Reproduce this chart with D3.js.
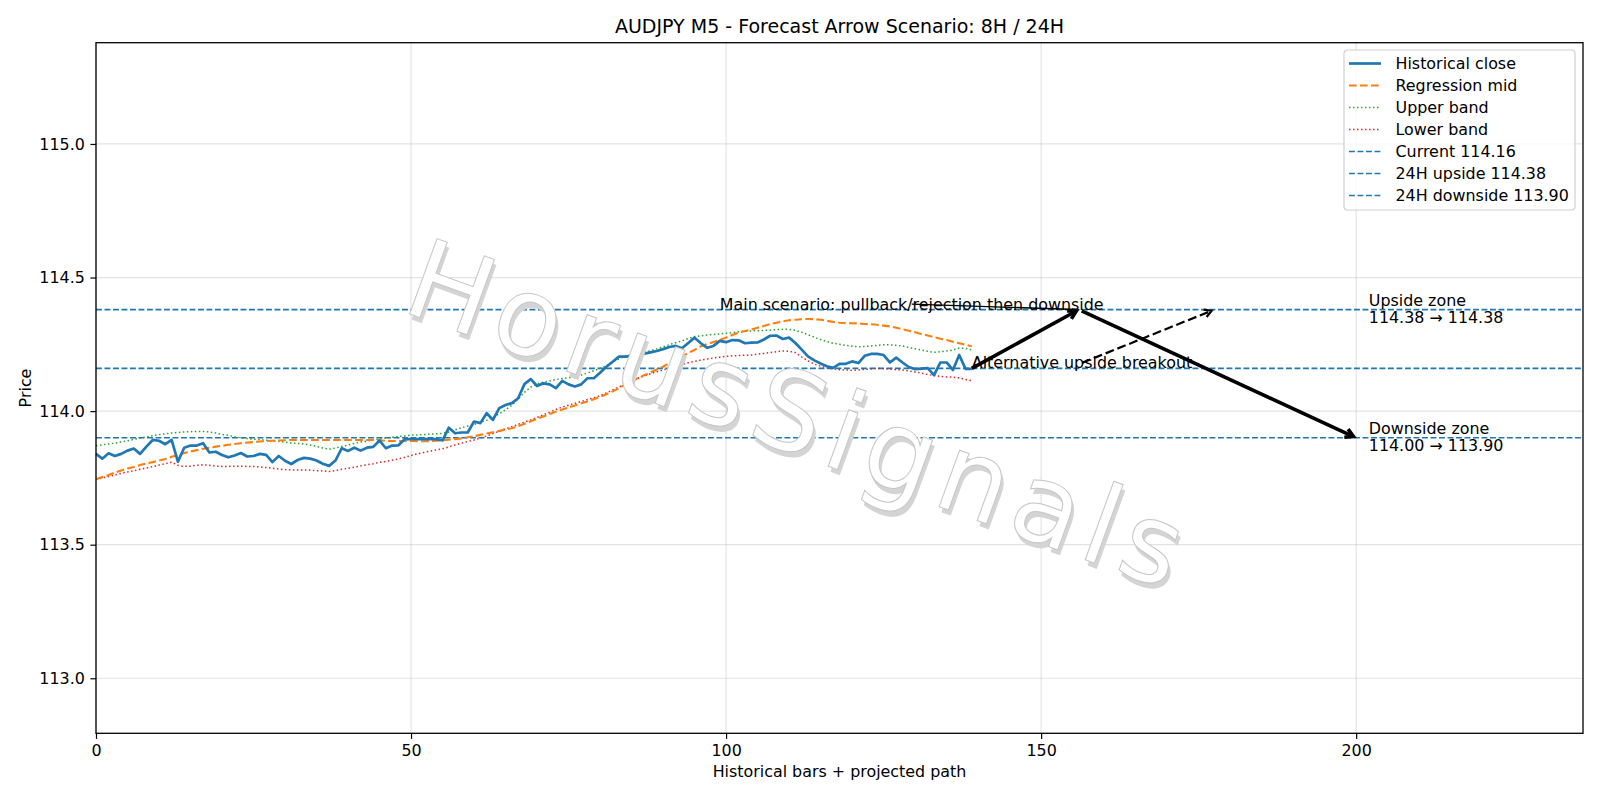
<!DOCTYPE html>
<html>
<head>
<meta charset="utf-8">
<script src="https://cdn.jsdelivr.net/npm/d3@7"></script>
<style>
  body { margin: 0; background: #fff; }
  svg text { font-family: "DejaVu Sans", sans-serif; }
</style>
</head>
<body>
<svg id="chart" width="1600" height="800"></svg>
<script>
// historical close, one value per bar (x = index)
var closeVals = [
  113.840,113.822,113.842,113.832,113.840,113.852,113.860,113.840,113.867,113.892,
  113.889,113.876,113.892,113.811,113.863,113.871,113.871,113.880,113.845,113.848,
  113.836,113.827,113.834,113.843,113.830,113.832,113.840,113.836,113.809,113.832,
  113.814,113.802,113.817,113.825,113.822,113.815,113.803,113.795,113.815,113.861,
  113.851,113.863,113.852,113.863,113.866,113.890,113.861,113.871,113.872,113.895,
  113.895,113.895,113.895,113.895,113.895,113.890,113.938,113.917,113.920,113.920,
  113.961,113.955,113.992,113.967,114.011,114.023,114.030,114.048,114.101,114.120,
  114.094,114.104,114.100,114.086,114.113,114.100,114.092,114.100,114.123,114.123,
  114.144,114.166,114.185,114.204,114.204,114.206,114.201,114.215,114.220,114.225,
  114.232,114.240,114.244,114.235,114.255,114.275,114.254,114.237,114.244,114.263,
  114.258,114.266,114.265,114.254,114.256,114.257,114.268,114.282,114.283,114.270,
  114.275,114.255,114.230,114.205,114.190,114.178,114.168,114.162,114.177,114.177,
  114.186,114.180,114.207,114.214,114.214,114.210,114.182,114.200,114.182,114.165,
  114.157,114.159,114.161,114.135,114.182,114.182,114.154,114.210,114.158,114.158
];
var midVals = [
  113.745,113.753,113.761,113.770,113.778,113.785,113.791,113.798,113.804,113.809,
  113.815,113.821,113.829,113.836,113.843,113.849,113.854,113.859,113.863,113.867,
  113.870,113.874,113.877,113.880,113.882,113.884,113.886,113.888,113.889,113.890,
  113.891,113.892,113.892,113.892,113.892,113.892,113.892,113.892,113.892,113.892,
  113.892,113.892,113.892,113.892,113.892,113.891,113.889,113.888,113.888,113.888,
  113.888,113.887,113.887,113.888,113.889,113.891,113.893,113.895,113.898,113.902,
  113.906,113.911,113.916,113.921,113.926,113.931,113.936,113.944,113.953,113.962,
  113.971,113.980,113.989,113.998,114.006,114.014,114.021,114.029,114.036,114.044,
  114.053,114.063,114.074,114.086,114.099,114.112,114.123,114.134,114.145,114.156,
  114.166,114.180,114.192,114.205,114.218,114.229,114.243,114.251,114.259,114.266,
  114.275,114.285,114.294,114.300,114.305,114.312,114.319,114.326,114.331,114.336,
  114.340,114.342,114.344,114.345,114.344,114.342,114.338,114.334,114.331,114.330,
  114.329,114.328,114.326,114.325,114.323,114.320,114.317,114.312,114.306,114.301,
  114.295,114.289,114.283,114.277,114.271,114.266,114.260,114.254,114.248,114.243
];
var upperVals = [
  113.870,113.874,113.877,113.880,113.885,113.889,113.894,113.899,113.903,113.908,
  113.912,113.915,113.918,113.920,113.922,113.923,113.924,113.924,113.922,113.918,
  113.913,113.909,113.904,113.900,113.897,113.895,113.893,113.891,113.889,113.887,
  113.884,113.881,113.879,113.877,113.873,113.868,113.862,113.857,113.862,113.868,
  113.873,113.879,113.884,113.888,113.892,113.896,113.899,113.902,113.905,113.907,
  113.910,113.911,113.912,113.914,113.915,113.917,113.922,113.930,113.938,113.944,
  113.950,113.958,113.966,113.976,113.990,114.005,114.022,114.045,114.070,114.090,
  114.102,114.108,114.113,114.118,114.122,114.125,114.128,114.135,114.143,114.151,
  114.160,114.170,114.184,114.196,114.206,114.212,114.216,114.220,114.226,114.233,
  114.240,114.249,114.256,114.263,114.272,114.279,114.282,114.285,114.287,114.289,
  114.291,114.294,114.297,114.299,114.300,114.301,114.302,114.303,114.305,114.306,
  114.306,114.302,114.295,114.286,114.277,114.268,114.260,114.254,114.250,114.246,
  114.243,114.241,114.242,114.244,114.246,114.248,114.248,114.246,114.244,114.238,
  114.233,114.229,114.224,114.220,114.222,114.225,114.229,114.236,114.235,114.229
];
var lowerVals = [
  113.745,113.750,113.755,113.761,113.767,113.772,113.777,113.782,113.787,113.792,
  113.798,113.803,113.809,113.797,113.793,113.794,113.797,113.799,113.797,113.794,
  113.793,113.793,113.794,113.794,113.793,113.793,113.791,113.789,113.786,113.783,
  113.781,113.780,113.780,113.780,113.779,113.777,113.776,113.774,113.777,113.782,
  113.786,113.790,113.795,113.799,113.803,113.808,113.812,113.816,113.821,113.827,
  113.834,113.840,113.845,113.850,113.855,113.859,113.866,113.873,113.880,113.886,
  113.892,113.899,113.907,113.916,113.925,113.934,113.942,113.950,113.959,113.967,
  113.976,113.986,113.996,114.006,114.015,114.022,114.029,114.036,114.043,114.050,
  114.058,114.068,114.079,114.090,114.102,114.113,114.123,114.132,114.140,114.147,
  114.154,114.161,114.168,114.175,114.181,114.186,114.191,114.195,114.199,114.202,
  114.205,114.207,114.208,114.209,114.210,114.213,114.216,114.219,114.222,114.225,
  114.224,114.219,114.203,114.188,114.176,114.168,114.162,114.158,114.155,114.154,
  114.153,114.154,114.156,114.158,114.160,114.159,114.157,114.155,114.154,114.150,
  114.146,114.142,114.137,114.133,114.130,114.128,114.127,114.124,114.118,114.114
];

// horizontal reference levels
var levelVals = [114.16, 114.38, 113.90];
var levelLabels = ["Current 114.16", "24H upside 114.38", "24H downside 113.90"];

// projected main path (bar, price) and the alternative target
var pathX = [139, 156, 200];
var pathY = [114.16, 114.38, 113.90];
var altX = [139, 177.5];
var altY = [114.16, 114.38];

var zoneLabels = [["Upside zone", "114.38 \u2192 114.38"], ["Downside zone", "114.00 \u2192 113.90"]];
var zoneX = 202;
var zoneY = [114.38, 113.90];

var xTicks = [0, 50, 100, 150, 200];
var yTicks = [113.0, 113.5, 114.0, 114.5, 115.0];

var svg = d3.select("#chart");
var margin = {top: 42.7, right: 17, bottom: 66.7, left: 96},
    width = 1600 - margin.left - margin.right,
    height = 800 - margin.top - margin.bottom;

var x = d3.scaleLinear().domain([0, 236]).range([0, width]),
    y = d3.scaleLinear().domain([112.794, 115.379]).range([height, 0]);

var g = svg.append("g")
    .attr("transform", "translate(" + margin.left + "," + margin.top + ")");

// grid
g.selectAll(".gx").data(xTicks).enter().append("line")
    .attr("x1", function(d) { return x(d); }).attr("x2", function(d) { return x(d); })
    .attr("y1", 0).attr("y2", height)
    .attr("stroke", "#b0b0b0").attr("stroke-opacity", 0.35).attr("stroke-width", 1.2);
g.selectAll(".gy").data(yTicks).enter().append("line")
    .attr("x1", 0).attr("x2", width)
    .attr("y1", function(d) { return y(d); }).attr("y2", function(d) { return y(d); })
    .attr("stroke", "#b0b0b0").attr("stroke-opacity", 0.35).attr("stroke-width", 1.2);

// watermark
var wm = svg.append("g").attr("transform", "translate(804,417) rotate(20)");
wm.append("text")
    .attr("x", 0).attr("y", 4.5)
    .attr("text-anchor", "middle").attr("dominant-baseline", "central")
    .style("font-size", "110px").style("letter-spacing", "9px")
    .attr("fill", "#d4d4d4")
    .text("HorusSignals");
wm.append("text")
    .attr("x", -4).attr("y", 0)
    .attr("text-anchor", "middle").attr("dominant-baseline", "central")
    .style("font-size", "110px").style("letter-spacing", "9px")
    .attr("fill", "#ffffff")
    .attr("stroke", "#c6c6c6").attr("stroke-width", 1)
    .text("HorusSignals");

// level lines
g.selectAll(".level").data(levelVals).enter().append("line")
    .attr("x1", 0).attr("x2", width)
    .attr("y1", function(d) { return y(d); }).attr("y2", function(d) { return y(d); })
    .attr("stroke", "#1f77b4").attr("stroke-width", 1.6)
    .attr("stroke-dasharray", "5.9,2.6");

var line = d3.line()
    .x(function(d, i) { return x(i); })
    .y(function(d) { return y(d); });

var seriesStyle = [
  {vals: upperVals, color: "#2ca02c", w: 1.5, dash: "1.5,2.5"},
  {vals: lowerVals, color: "#d62728", w: 1.5, dash: "1.5,2.5"},
  {vals: midVals, color: "#ff7f0e", w: 2.1, dash: "7.7,3.3"},
  {vals: closeVals, color: "#1f77b4", w: 2.7, dash: null}
];
seriesStyle.forEach(function(s) {
  g.append("path")
      .datum(s.vals)
      .attr("fill", "none")
      .attr("stroke", s.color)
      .attr("stroke-width", s.w)
      .attr("stroke-dasharray", s.dash)
      .attr("stroke-linejoin", "round")
      .attr("d", line);
});

// arrows
function shrinkPts(x0, y0, x1, y1, a, b) {
  var dx = x1 - x0, dy = y1 - y0, L = Math.sqrt(dx * dx + dy * dy);
  var ux = dx / L, uy = dy / L;
  return [x0 + ux * a, y0 + uy * a, x1 - ux * b, y1 - uy * b];
}
function arrow(x0, y0, x1, y1, w, dash, hl, hw) {
  g.append("line")
      .attr("x1", x0).attr("y1", y0).attr("x2", x1).attr("y2", y1)
      .attr("stroke", "#000").attr("stroke-width", w)
      .attr("stroke-dasharray", dash);
  if (hl > 0) {
    var dx = x1 - x0, dy = y1 - y0, L = Math.sqrt(dx * dx + dy * dy);
    var ux = dx / L, uy = dy / L;
    g.append("path")
        .attr("d", "M" + (x1 - ux * hl - uy * hw) + "," + (y1 - uy * hl + ux * hw) +
                   "L" + x1 + "," + y1 +
                   "L" + (x1 - ux * hl + uy * hw) + "," + (y1 - uy * hl - ux * hw))
        .attr("fill", "none").attr("stroke", "#000").attr("stroke-width", w)
        .attr("stroke-linejoin", "miter");
  }
}

// main scenario text + thin leader
var mainText = g.append("text")
    .attr("x", x(99)).attr("y", y(114.38))
    .style("font-size", "15.9px").attr("fill", "#000")
    .text("Main scenario: pullback/rejection then downside");
var mb = mainText.node().getBBox();
var mp = shrinkPts(mb.x + mb.width / 2, mb.y + mb.height / 2, x(pathX[1]), y(pathY[1]), 0, 3);
arrow(mp[0], mp[1], mp[2], mp[3], 1.3, null, 0, 0);

// alternative text + dashed arrow
var altText = g.append("text")
    .attr("x", x(139)).attr("y", y(114.16))
    .style("font-size", "15.9px").attr("fill", "#000")
    .text("Alternative upside breakout");
var ab = altText.node().getBBox();
var ap = shrinkPts(ab.x + ab.width / 2, ab.y + ab.height / 2, x(altX[1]), y(altY[1]), 0, 3);
arrow(ap[0], ap[1], ap[2], ap[3], 2.2, "8.9,3.8", 7, 4);

// main projected path
for (var k = 0; k < pathX.length - 1; k++) {
  var p = shrinkPts(x(pathX[k]), y(pathY[k]), x(pathX[k + 1]), y(pathY[k + 1]), k === 0 ? 0 : 3, 3);
  arrow(p[0], p[1], p[2], p[3], 3.6, null, 8, 4.5);
}

// zone labels
zoneLabels.forEach(function(lines, i) {
  var t = g.append("text").style("font-size", "15.9px").attr("fill", "#000");
  t.append("tspan").attr("x", x(zoneX)).attr("y", y(zoneY[i]) - 3.5).text(lines[0]);
  t.append("tspan").attr("x", x(zoneX)).attr("y", y(zoneY[i]) + 13.2).text(lines[1]);
});

// axes
var xAxis = g.append("g")
    .attr("transform", "translate(0," + height + ")")
    .call(d3.axisBottom(x).tickValues(xTicks).tickSize(5.6).tickPadding(5.6).tickFormat(d3.format("d")));
var yAxis = g.append("g")
    .call(d3.axisLeft(y).tickValues(yTicks).tickSize(5.6).tickPadding(5.6).tickFormat(d3.format(".1f")));
[xAxis, yAxis].forEach(function(a) {
  a.select(".domain").remove();
  a.selectAll("line").attr("stroke", "#000").attr("stroke-width", 1.2);
  a.selectAll("text").style("font-size", "15.9px").attr("fill", "#000")
      .style("font-family", "'DejaVu Sans', sans-serif");
});

// frame
g.append("rect")
    .attr("width", width).attr("height", height)
    .attr("fill", "none").attr("stroke", "#000").attr("stroke-width", 1.3);

// labels
svg.append("text")
    .attr("x", margin.left + width / 2).attr("y", 33)
    .attr("text-anchor", "middle").style("font-size", "19px")
    .text("AUDJPY M5 - Forecast Arrow Scenario: 8H / 24H");
svg.append("text")
    .attr("x", margin.left + width / 2).attr("y", 776.5)
    .attr("text-anchor", "middle").style("font-size", "15.9px")
    .text("Historical bars + projected path");
svg.append("text")
    .attr("transform", "translate(31," + (margin.top + height / 2) + ") rotate(-90)")
    .attr("text-anchor", "middle").style("font-size", "15.9px")
    .text("Price");

// legend
var legendLabels = ["Historical close", "Regression mid", "Upper band", "Lower band"].concat(levelLabels);
var legendStyle = [
  {color: "#1f77b4", w: 2.7, dash: null},
  {color: "#ff7f0e", w: 2.1, dash: "7.7,3.3"},
  {color: "#2ca02c", w: 1.5, dash: "1.5,2.5"},
  {color: "#d62728", w: 1.5, dash: "1.5,2.5"},
  {color: "#1f77b4", w: 1.6, dash: "5.9,2.6"},
  {color: "#1f77b4", w: 1.6, dash: "5.9,2.6"},
  {color: "#1f77b4", w: 1.6, dash: "5.9,2.6"}
];
var lg = svg.append("g").attr("transform", "translate(1344,50)");
lg.append("rect")
    .attr("width", 231).attr("height", 160).attr("rx", 3.5)
    .attr("fill", "#fff").attr("fill-opacity", 0.8)
    .attr("stroke", "#d0d0d0").attr("stroke-width", 1.2);
legendLabels.forEach(function(lab, i) {
  var cy = 13.5 + i * 22;
  lg.append("line")
      .attr("x1", 5).attr("x2", 37).attr("y1", cy).attr("y2", cy)
      .attr("stroke", legendStyle[i].color).attr("stroke-width", legendStyle[i].w)
      .attr("stroke-dasharray", legendStyle[i].dash);
  lg.append("text")
      .attr("x", 51.5).attr("y", cy + 5.6)
      .style("font-size", "15.9px").attr("fill", "#000")
      .text(lab);
});
</script>
</body>
</html>
